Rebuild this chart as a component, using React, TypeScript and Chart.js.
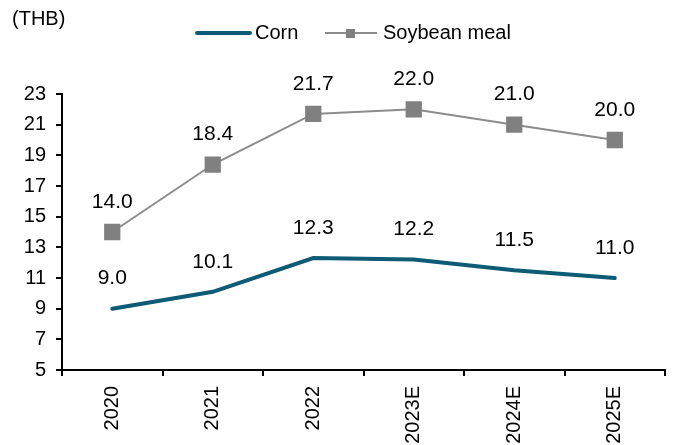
import React, { useEffect, useRef } from "react";
import { Chart, registerables } from "chart.js";

Chart.register(...registerables);

const categories = ["2020", "2021", "2022", "2023E", "2024E", "2025E"];
const cornValues = [9.0, 10.1, 12.3, 12.2, 11.5, 11.0];
const soyValues = [14.0, 18.4, 21.7, 22.0, 21.0, 20.0];
const seriesNames = ["Corn", "Soybean meal"];
const unitLabel = "(THB)";

const CORN_COLOR = "#0d5b74";
const SOY_LINE = "#8c8c8c";
const SOY_MARK = "#808080";
const FONT = "Liberation Sans, Arial, sans-serif";

const overlayPlugin = {
  id: "overlay",
  afterDatasetsDraw(chart: any) {
    const ctx = chart.ctx;
    ctx.save();
    ctx.fillStyle = "#000";
    ctx.font = `21px ${FONT}`;
    ctx.textAlign = "center";
    ctx.textBaseline = "middle";
    chart.data.datasets.forEach((ds: any, i: number) => {
      const meta = chart.getDatasetMeta(i);
      meta.data.forEach((pt: any, j: number) => {
        ctx.fillText(Number(ds.data[j]).toFixed(1), pt.x, pt.y - 30);
      });
    });
    ctx.restore();
  },
  afterDraw(chart: any) {
    const ctx = chart.ctx;
    ctx.save();
    ctx.fillStyle = "#000";
    ctx.font = `20px ${FONT}`;
    ctx.textBaseline = "middle";
    ctx.textAlign = "left";
    ctx.fillText(unitLabel, 12, 19);
    const ly = 33;
    // Corn legend
    ctx.strokeStyle = CORN_COLOR;
    ctx.lineWidth = 4;
    ctx.lineCap = "round";
    ctx.beginPath();
    ctx.moveTo(197, ly);
    ctx.lineTo(250, ly);
    ctx.stroke();
    ctx.fillText(seriesNames[0], 255, ly);
    // Soy legend
    ctx.strokeStyle = SOY_LINE;
    ctx.lineWidth = 2;
    ctx.lineCap = "butt";
    ctx.beginPath();
    ctx.moveTo(325, ly);
    ctx.lineTo(377, ly);
    ctx.stroke();
    ctx.fillStyle = SOY_MARK;
    ctx.fillRect(346, ly - 4, 9, 9);
    ctx.fillStyle = "#000";
    ctx.fillText(seriesNames[1], 383, ly);
    ctx.restore();
  },
};

export default function App() {
  const ref = useRef<HTMLCanvasElement>(null);
  useEffect(() => {
    document.body.style.margin = "0";
    if (!ref.current) return;
    const chart = new Chart(ref.current, {
      type: "line",
      data: {
        labels: categories,
        datasets: [
          {
            label: seriesNames[0],
            data: cornValues,
            borderColor: CORN_COLOR,
            backgroundColor: CORN_COLOR,
            borderWidth: 4,
            pointRadius: 0,
            pointHoverRadius: 0,
            tension: 0,
            borderCapStyle: "round",
          },
          {
            label: seriesNames[1],
            data: soyValues,
            borderColor: SOY_LINE,
            backgroundColor: SOY_MARK,
            borderWidth: 2,
            pointStyle: "rect",
            pointRadius: 11.5,
            pointBorderWidth: 0,
            pointBackgroundColor: SOY_MARK,
            tension: 0,
          },
        ],
      },
      options: {
        responsive: false,
        animation: false,
        layout: { padding: { top: 94, right: 13, left: 0, bottom: 0 } },
        plugins: {
          legend: { display: false },
          tooltip: { enabled: false },
        },
        scales: {
          x: {
            offset: true,
            grid: {
              offset: true,
              drawOnChartArea: false,
              drawTicks: true,
              tickLength: 6,
              color: "#000",
              lineWidth: 2,
            },
            border: { display: true, color: "#000", width: 2 },
            ticks: {
              autoSkip: false,
              minRotation: 90,
              maxRotation: 90,
              color: "#000",
              padding: 10,
              font: { family: FONT, size: 20 },
            },
            afterFit(scale: any) {
              scale.height = 75;
            },
          },
          y: {
            min: 5,
            max: 23,
            ticks: {
              stepSize: 2,
              color: "#000",
              padding: 10,
              font: { family: FONT, size: 20 },
            },
            grid: {
              drawOnChartArea: false,
              drawTicks: true,
              tickLength: 6,
              color: "#000",
              lineWidth: 2,
            },
            border: { display: true, color: "#000", width: 2 },
            afterFit(scale: any) {
              scale.width = 62;
            },
          },
        },
      },
      plugins: [overlayPlugin],
    });
    return () => chart.destroy();
  }, []);
  return (
    <div style={{ width: 678, height: 445 }}>
      <canvas ref={ref} width={678} height={445} />
    </div>
  );
}
